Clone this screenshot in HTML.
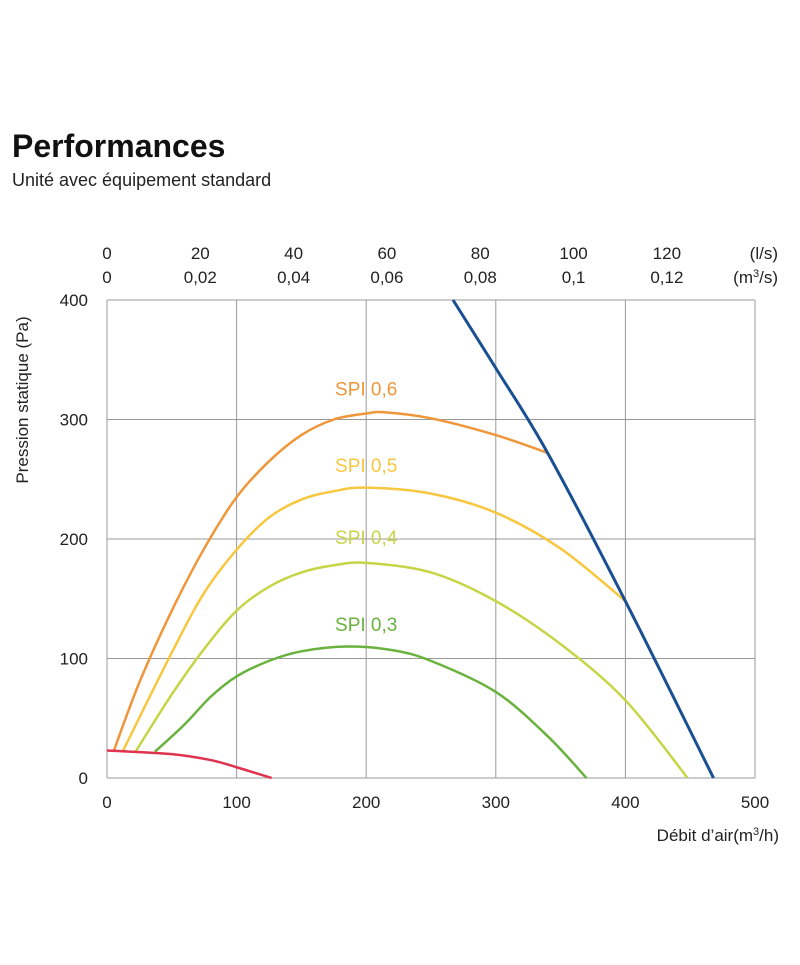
<!DOCTYPE html>
<html><head><meta charset="utf-8"><style>
body{margin:0;background:#fff;width:800px;height:960px;overflow:hidden;font-family:"Liberation Sans",sans-serif}
</style></head><body>
<svg width="800" height="960" font-family="Liberation Sans, sans-serif">
<text x="12" y="157" font-size="32" font-weight="bold" fill="#111">Performances</text>
<text x="12" y="186" font-size="18" fill="#222">Unité avec équipement standard</text>
<g id="grid"></g><g id="curves"></g><g id="labels"></g>
</svg>
<script>
const xTicks=[0,100,200,300,400,500];
const yTicks=[0,100,200,300,400];
const lsTicks=["0","20","40","60","80","100","120"];
const m3sTicks=["0","0,02","0,04","0,06","0,08","0,1","0,12"];
const blueX=[267,300,340,400,468];const blueY=[400,343,272,148,0];
const spi6X=[5,25,50,75,100,125,150,175,200,215,250,300,340];const spi6Y=[22,80,140,192,235,265,287,300,305,306,301,287,272];
const spi5X=[12,50,75,100,125,150,175,200,250,300,350,400];const spi5Y=[22,105,155,191,218,233,240,243,238,222,192,148];
const spi4X=[22,50,75,100,125,150,175,200,250,300,350,400,448];const spi4Y=[22,70,108,140,160,172,178,180,172,148,112,65,0];
const spi3X=[37,60,80,100,125,150,185,220,250,300,340,370];const spi3Y=[22,45,68,85,98,106,110,107,98,72,35,0];
const redX=[0,50,80,100,127];const redY=[23,20,15,9,0];
const spiLabels=["SPI 0,6","SPI 0,5","SPI 0,4","SPI 0,3"];
const spiLabelY=[320,256,196,123];
const X=v=>107+v*1.296, Y=v=>778-v*1.195;
const NS="http://www.w3.org/2000/svg";
function mk(t,a,p,txt){const e=document.createElementNS(NS,t);for(const k in a)e.setAttribute(k,a[k]);if(txt!==undefined)e.textContent=txt;document.getElementById(p).appendChild(e);return e;}
xTicks.forEach(v=>{const l=mk('line',{x1:X(v),x2:X(v),y1:Y(0),y2:Y(400),stroke:'#999','stroke-width':1},'grid');

const t=mk('text',{x:X(v),y:808,'font-size':17,'text-anchor':'middle',fill:'#222'},'labels',v);
});
yTicks.forEach(v=>{const l=mk('line',{x1:X(0),x2:X(500),y1:Y(v),y2:Y(v),stroke:'#999','stroke-width':1},'grid');

const t=mk('text',{x:88,y:Y(v)+6,'font-size':17,'text-anchor':'end',fill:'#222'},'labels',v);
});
lsTicks.forEach((s,i)=>{const x=X(i*20*3.6);
const a=mk('text',{x:x,y:259,'font-size':17,'text-anchor':'middle',fill:'#222'},'labels',s);

const b=mk('text',{x:x,y:283,'font-size':17,'text-anchor':'middle',fill:'#222'},'labels',m3sTicks[i]);
});
const u1=mk('text',{x:778,y:259,'font-size':17,'text-anchor':'end',fill:'#222'},'labels','(l/s)');

const u2=mk('text',{x:778,y:283,'font-size':17,'text-anchor':'end',fill:'#222'},'labels');
u2.innerHTML='(m<tspan font-size="11" dy="-6">3</tspan><tspan dy="6">/s)</tspan>';

const xt=mk('text',{x:779,y:841,'font-size':17,'text-anchor':'end',fill:'#222'},'labels');
xt.innerHTML='Débit d’air(m<tspan font-size="11" dy="-6">3</tspan><tspan dy="6">/h)</tspan>';

const yt=mk('text',{x:0,y:0,'font-size':17,'text-anchor':'middle',fill:'#222',transform:'translate(28,400) rotate(-90)'},'labels','Pression statique  (Pa)');

function path(xs,ys){const p=xs.map((x,i)=>[X(x),Y(ys[i])]);let d='M'+p[0].join(',');
for(let i=0;i<p.length-1;i++){const p0=p[i-1]||p[i],p1=p[i],p2=p[i+1],p3=p[i+2]||p2;
d+=` C${p1[0]+(p2[0]-p0[0])/6},${p1[1]+(p2[1]-p0[1])/6} ${p2[0]-(p3[0]-p1[0])/6},${p2[1]-(p3[1]-p1[1])/6} ${p2[0]},${p2[1]}`;}return d;}
[[spi3X,spi3Y,'#6ab23e','spi-0-3-curve'],[spi4X,spi4Y,'#c5d545','spi-0-4-curve'],[spi5X,spi5Y,'#f8c740','spi-0-5-curve'],[spi6X,spi6Y,'#f0963a','spi-0-6-curve'],[redX,redY,'#e0334f','min-curve'],[blueX,blueY,'#1a4f93','max-curve']].forEach(s=>{
const e=mk('path',{d:path(s[0],s[1]),fill:'none',stroke:s[2],'stroke-width':s[2]=='#1a4f93'?3:2.5},'curves');
});
const lc=['#f0963a','#f8c740','#c5d545','#6ab23e'];
spiLabels.forEach((s,i)=>{const t=mk('text',{x:X(200),y:Y(spiLabelY[i]),'font-size':19,'text-anchor':'middle',fill:lc[i]},'labels',s);
});
</script>
</body></html>
